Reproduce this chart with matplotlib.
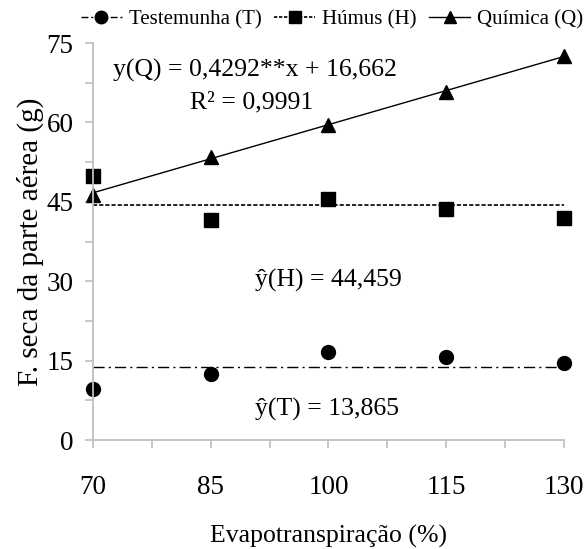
import numpy as np
import matplotlib.pyplot as plt
from matplotlib.lines import Line2D

plt.rcParams['font.family'] = ['Liberation Serif', 'DejaVu Serif']

# evapotranspiration levels (%)
x = [70, 85, 100, 115, 130]
# dry mass of aerial part (g)
testemunha = [9.6, 12.5, 16.7, 15.6, 14.6]
humus = [49.9, 41.6, 45.6, 43.7, 42.0]
quimica = [46.3, 53.5, 59.5, 65.8, 72.6]

# fitted models
mean_T = 13.865
mean_H = 44.459
slope_Q = 0.4292
intercept_Q = 16.662

y_ticks = [0, 15, 30, 45, 60, 75]

fig = plt.figure(figsize=(5.87, 5.49), dpi=100)
ax = fig.add_axes([0.1584, 0.1985, 0.8024, 0.7231])

xs = np.array([70, 130])
ax.plot(xs, [mean_T, mean_T], color='black', lw=1, ls=(0, (8, 3, 1.5, 3)))
ax.plot(xs, [mean_H, mean_H], color='black', lw=1.2, ls=(0, (2.5, 1.2)))
ax.plot(xs, slope_Q * xs + intercept_Q, color='black', lw=1)

ax.plot(x, testemunha, 'o', color='black', ms=10, clip_on=False)
ax.plot(x, humus, 's', color='black', ms=9.5, clip_on=False)
ax.plot(x, quimica, '^', color='black', ms=10, clip_on=False)

ax.set_xlim(70, 130)
ax.set_ylim(0, 75)
ax.set_xticks(x)
ax.set_xticks(np.arange(77.5, 130, 15), minor=True)
ax.set_yticks(y_ticks)
ax.set_yticks(np.arange(7.5, 75, 15), minor=True)

for s in ['top', 'right']:
    ax.spines[s].set_visible(False)
for s in ['left', 'bottom']:
    ax.spines[s].set_color('#bfbfbf')
    ax.spines[s].set_linewidth(1.3)

ax.tick_params(which='both', direction='out', length=6, width=1.2,
               color='#bfbfbf', labelsize=19.5)
ax.tick_params(axis='x', which='both', pad=19)
ax.tick_params(axis='y', which='both', pad=8)

ax.set_xlabel('Evapotranspiração (%)', fontsize=18.5, labelpad=18)
ax.set_ylabel('F. seca da parte aérea (g)', fontsize=21, labelpad=2)

ax.text(72.5, 69.9, 'y(Q) = 0,4292**x + 16,662', fontsize=18.5, va='center')
ax.text(82.4, 63.7, 'R² = 0,9991', fontsize=18.5, va='center')
ax.text(90.6, 30.2, 'ŷ(H) = 44,459', fontsize=18.5, va='center')
ax.text(90.6, 5.7, 'ŷ(T) = 13,865', fontsize=18.5, va='center')

handles = [
    Line2D([], [], color='black', lw=1, ls=(0, (5, 2, 1.5, 2)), marker='o', ms=9),
    Line2D([], [], color='black', lw=1.2, ls=(0, (2, 1)), marker='s', ms=8.5),
    Line2D([], [], color='black', lw=1, marker='^', ms=9),
]
fig.legend(handles, ['Testemunha (T)', 'Húmus (H)', 'Química (Q)'],
           loc='center', bbox_to_anchor=(0.565, 0.965), ncol=3, frameon=False,
           fontsize=15, handlelength=2.0, handletextpad=0.3, columnspacing=0.6)

fig.savefig('out.png', dpi=100)
